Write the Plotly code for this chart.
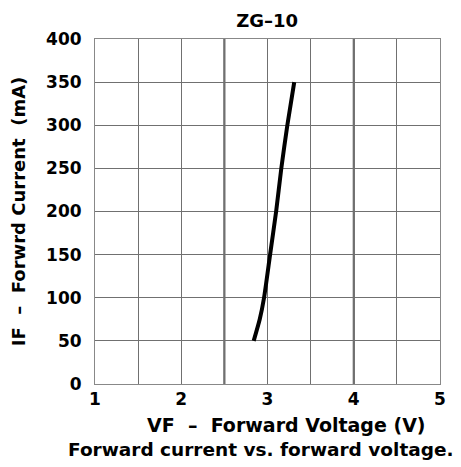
import plotly.graph_objects as go

vf = [2.84, 2.91, 2.96, 3.03, 3.10, 3.16, 3.23, 3.31]
if_ma = [50, 75, 100, 150, 200, 250, 300, 350]
x_ticks = [1, 2, 3, 4, 5]
y_ticks = [0, 50, 100, 150, 200, 250, 300, 350, 400]
x_grid = [1.5, 2, 2.5, 3, 3.5, 4, 4.5]
x_major = [2.5, 4]

NB = "\u00a0"
FONT = "DejaVu Sans"

fig = go.Figure()
fig.add_trace(go.Scatter(
    x=vf, y=if_ma, mode="lines",
    line=dict(color="black", width=4, shape="spline", smoothing=0.6),
    showlegend=False, hoverinfo="skip"))

for xv in x_major:
    fig.add_vline(x=xv, line=dict(color="#444444", width=2), layer="below")

fig.update_layout(
    width=453, height=459,
    margin=dict(l=87, r=21, t=31, b=83, autoexpand=False),
    paper_bgcolor="white", plot_bgcolor="white",
    title=dict(text="ZG" + "\u2013" + "10", x=0.572, xanchor="center", y=0.972, yanchor="middle",
               font=dict(family=FONT, size=18, color="black", weight="bold")),
    font=dict(family=FONT, color="black"),
    annotations=[
        dict(text="VF" + NB + NB + "\u2013" + NB + NB + "Forward" + NB + "Voltage" + NB + "(V)",
             xref="paper", yref="paper", x=0.554, y=-0.119, xanchor="center", yanchor="middle",
             showarrow=False, font=dict(family=FONT, size=19, color="black", weight="bold")),
        dict(text="Forward" + NB + "current" + NB + "vs." + NB + "forward" + NB + "voltage.",
             xref="paper", yref="paper", x=0.481, y=-0.191, xanchor="center", yanchor="middle",
             showarrow=False, font=dict(family=FONT, size=18.5, color="black", weight="bold")),
    ],
)

fig.update_xaxes(
    range=[1, 5], tickvals=x_ticks, ticktext=[str(v) for v in x_ticks],
    showgrid=True, gridcolor="#707070", gridwidth=1,
    minor=dict(tickvals=x_grid, showgrid=True, gridcolor="#707070", gridwidth=1, ticks=""),
    showline=True, linecolor="#888888", linewidth=1, mirror=True,
    ticks="", ticklabelstandoff=0, automargin=False,
    tickfont=dict(family=FONT, size=17, color="black", weight="bold"),
    zeroline=False,
)
fig.update_yaxes(
    range=[0, 400], tickvals=y_ticks, ticktext=[str(v) for v in y_ticks],
    showgrid=True, gridcolor="#707070", gridwidth=1,
    showline=True, linecolor="#888888", linewidth=1, mirror=True,
    ticks="", ticklabelstandoff=9, automargin=False,
    tickfont=dict(family=FONT, size=17, color="black", weight="bold"),
    title=dict(text="IF" + NB + NB + "\u2013" + NB + NB + "Forwrd" + NB + "Current" + NB + NB + "(mA)",
               font=dict(family=FONT, size=18, color="black", weight="bold"), standoff=15),
    zeroline=False,
)

fig.write_html("out.html")
